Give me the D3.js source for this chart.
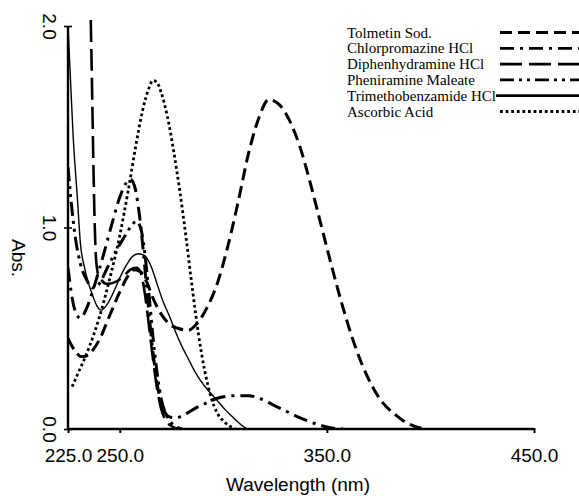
<!DOCTYPE html>
<html>
<head>
<meta charset="utf-8">
<script src="https://cdn.jsdelivr.net/npm/d3@7"></script>
<style>
  body { margin: 0; background: #fff; }
  svg { display: block; }
</style>
</head>
<body>
<div id="chart"></div>
<script>
// spectra, [wavelength nm, absorbance]
var tolmetin = [[225,0.45],[227,0.41],[229,0.38],[231,0.36],[233,0.36],[236,0.38],[240,0.44],[245,0.56],
  [250,0.68],[254,0.76],[257,0.79],[260,0.78],[263,0.73],[266,0.65],[270,0.57],[274,0.52],[278,0.50],
  [283,0.49],[287,0.52],[292,0.60],[297,0.72],[302,0.90],[307,1.12],[312,1.36],[317,1.54],[322,1.635],
  [327,1.61],[332,1.53],[337,1.40],[342,1.22],[347,1.02],[352,0.82],[357,0.63],[362,0.46],[367,0.32],
  [372,0.21],[377,0.13],[382,0.08],[387,0.04],[392,0.015],[397,0]];

var chlorpromazine = [[225,0.80],[227,0.65],[229,0.57],[231,0.55],[234,0.60],[238,0.72],[242,0.86],
  [246,1.01],[250,1.15],[253,1.22],[255,1.24],[257,1.21],[259,1.10],[261,0.92],[263,0.70],[265,0.48],
  [267,0.30],[269,0.17],[271,0.10],[274,0.06],[277,0.055],[281,0.07],[286,0.10],[292,0.13],[298,0.155],
  [305,0.165],[312,0.165],[318,0.15],[324,0.12],[330,0.09],[336,0.06],[342,0.035],[348,0.015],[354,0.003],[358,0]];

var diphenhydramine = [[236,2.03],[236.6,1.70],[237.2,1.35],[237.8,1.05],[238.5,0.85],[239.5,0.77],
  [241,0.74],[244,0.72],[248,0.73],[252,0.76],[255,0.79],[258,0.80],[260,0.78],[262,0.68],[264,0.52],
  [266,0.35],[268,0.20],[270,0.10],[272,0.045],[275,0.015],[278,0]];

var pheniramine = [[225,1.30],[227,1.08],[229,0.92],[231,0.82],[234,0.74],[237,0.70],[240,0.72],
  [244,0.80],[248,0.88],[252,0.95],[255,1.00],[258,1.03],[260,1.00],[262,0.88],[264,0.68],[266,0.46],
  [268,0.28],[270,0.15],[273,0.06],[276,0.02],[280,0]];

var trimethobenzamide = [[225,2.0],[226,1.78],[227.5,1.45],[229.5,1.15],[231,0.92],[233,0.80],[235,0.72],
  [237,0.66],[239,0.61],[241,0.59],[244,0.62],[247,0.68],[250,0.75],[253,0.81],[256,0.855],[259,0.87],
  [262,0.86],[265,0.81],[268,0.72],[271,0.63],[274,0.56],[277,0.48],[280,0.41],[283,0.35],[286,0.29],
  [289,0.24],[292,0.20],[295,0.165],[298,0.13],[301,0.095],[304,0.065],[307,0.035],[310,0.01],[312,0]];

var ascorbic = [[227,0.21],[230,0.28],[235,0.40],[240,0.55],[245,0.74],[250,0.96],[254,1.18],[258,1.42],
  [261,1.58],[264,1.69],[266,1.73],[268,1.72],[270,1.67],[273,1.55],[276,1.38],[279,1.18],[282,0.95],
  [285,0.70],[288,0.47],[291,0.29],[294,0.16],[297,0.08],[300,0.04],[303,0.015],[306,0]];

var names = ["Tolmetin Sod.", "Chlorpromazine HCl", "Diphenhydramine HCl",
             "Pheniramine Maleate", "Trimethobenzamide HCl", "Ascorbic Acid"];
var xTicks = [225, 250, 350, 450];
var yTicks = [0, 1, 2];

var series = [tolmetin, chlorpromazine, diphenhydramine, pheniramine, trimethobenzamide, ascorbic];
// line looks, same order as names
var dashes = ["12,6", "14,6,3,6", "22,7", "14,5,3,5,3,5", null, "2.8,2.8"];
var widths = [3, 3, 2.6, 3, 1.4, 2.8];

var width = 579, height = 496;

var x = d3.scaleLinear().domain([225, 450]).range([68, 534]);
var y = d3.scaleLinear().domain([0, 2]).range([429, 26]);

var svg = d3.select("#chart").append("svg")
  .attr("width", width)
  .attr("height", height);

svg.append("rect").attr("width", width).attr("height", height).attr("fill", "#fff");

svg.append("clipPath").attr("id", "plot")
  .append("rect").attr("x", 69).attr("y", 15).attr("width", 470).attr("height", 414);

var line = d3.line()
  .x(d => x(d[0]))
  .y(d => y(d[1]))
  .curve(d3.curveMonotoneX);

svg.append("g").attr("clip-path", "url(#plot)")
  .selectAll("path")
  .data(series)
  .enter().append("path")
  .attr("d", line)
  .attr("fill", "none")
  .attr("stroke", "#000")
  .attr("stroke-width", (d, i) => widths[i])
  .attr("stroke-dasharray", (d, i) => dashes[i]);

// axes
var xAxis = svg.append("g")
  .attr("transform", "translate(0," + y(0) + ")")
  .call(d3.axisBottom(x).tickValues(xTicks).tickSize(4).tickFormat(d3.format(".1f")));
xAxis.select(".domain").attr("stroke-width", 2.4).attr("d", "M" + x(225) + ",0H" + x(450));
xAxis.selectAll(".tick line").attr("stroke-width", 2).attr("y1", -1);
xAxis.selectAll("text")
  .attr("y", 20).attr("dy", "0.71em")
  .style("font-family", "'Liberation Sans', Arial, sans-serif")
  .style("font-size", "19px")
  .attr("fill", "#000");

var yAxis = svg.append("g")
  .attr("transform", "translate(" + x(225) + ",0)")
  .call(d3.axisLeft(y).tickValues(yTicks).tickSize(4).tickFormat(d3.format(".1f")));
yAxis.select(".domain").attr("stroke-width", 2.4).attr("d", "M0," + y(0) + "V" + y(2));
yAxis.selectAll(".tick line").attr("stroke-width", 1.6).attr("x2", 4).attr("x1", -4);
yAxis.selectAll("text")
  .attr("x", null).attr("dy", null)
  .attr("text-anchor", "middle")
  .attr("transform", "translate(-18,0) rotate(90)")
  .attr("y", 0)
  .attr("dy", "0.35em")
  .style("font-family", "'Liberation Sans', Arial, sans-serif")
  .style("font-size", "19px")
  .attr("fill", "#000");

svg.append("text")
  .attr("text-anchor", "middle")
  .attr("transform", "translate(" + 12 + "," + 258 + ") rotate(90)")
  .style("font-family", "'Liberation Sans', Arial, sans-serif")
  .style("font-size", "19px")
  .text("Abs.");

svg.append("text")
  .attr("x", 298).attr("y", 491)
  .attr("text-anchor", "middle")
  .style("font-family", "'Liberation Sans', Arial, sans-serif")
  .style("font-size", "19px")
  .text("Wavelength (nm)");

// legend
var legend = svg.append("g").selectAll("g")
  .data(names)
  .enter().append("g")
  .attr("transform", (d, i) => "translate(0," + (32.5 + i * 15.8) + ")");

legend.append("text")
  .attr("x", 347).attr("y", 5)
  .style("font-family", "'Liberation Serif', 'Times New Roman', serif")
  .style("font-size", "15px")
  .text(d => d);

legend.append("line")
  .attr("x1", (d, i) => i == 4 ? 496 : 500)
  .attr("x2", 582)
  .attr("stroke", "#000")
  .attr("stroke-width", 2.8)
  .attr("stroke-dasharray", (d, i) => dashes[i]);
</script>
</body>
</html>
